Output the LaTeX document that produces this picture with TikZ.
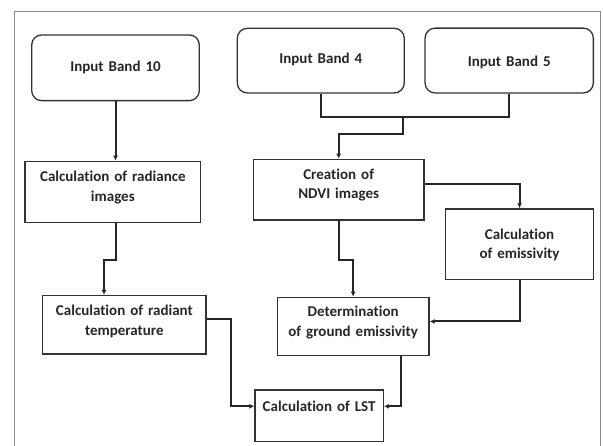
\documentclass[tikz,border=0pt]{standalone}
\usepackage{fontspec}
\setmainfont{Carlito}[Ligatures={NoCommon,NoContextual}]
\usetikzlibrary{arrows.meta}

\begin{document}
\begin{tikzpicture}[x=1pt,y=-1pt,
    caja/.style={draw=black!80, line width=1.3pt, inner sep=0pt, anchor=north,
      align=center, text=black!85, font=\fontsize{15}{19.5}\selectfont\bfseries},
    entrada/.style={caja, rounded corners=10pt},
    linea/.style={draw=black!85, line width=2pt},
    flecha/.style={linea, -{Latex[length=5pt,width=5pt]}}]
  \useasboundingbox (0,0) rectangle (603,446);

  % Marco
  \draw[black!45, line width=1.3pt] (14.7,446) -- (14.7,11.7) -- (600.5,11.7) -- (600.5,446);

  % Entradas
  \node[entrada, text width=167.6pt, text height=36.9pt, text depth=28.8pt] (band10) at (115.5,34.3) {Input Band 10};
  \node[entrada, text width=167pt, text height=34.8pt, text depth=29.8pt] (band4) at (320.8,27.7) {Input Band 4};
  \node[entrada, text width=168.3pt, text height=38pt, text depth=26.8pt] (band5) at (509.2,27.5) {Input Band 5};

  % Procesos
  \node[caja, text width=175.7pt, text height=20.5pt, text depth=40.5pt] (radiance) at (112.85,160.7) {Calculation of radiance\\images};
  \node[caja, text width=170.7pt, text height=19.8pt, text depth=40.8pt] (ndvi) at (338.65,158.7) {Creation of\\NDVI images};
  \node[caja, text width=147.6pt, text height=30.2pt, text depth=40.5pt] (emiss) at (519.5,208.3) {Calculation\\of emissivity};
  \node[caja, text width=163.3pt, text height=20.2pt, text depth=38.1pt] (radiant) at (124.35,295) {Calculation of radiant\\temperature};
  \node[caja, text width=151.7pt, text height=19.5pt, text depth=38.8pt] (ground) at (353.15,296.7) {Determination\\of ground emissivity};
  \node[caja, text width=128.3pt, text height=21.9pt, text depth=29.8pt] (lst) at (319.15,389.3) {Calculation of LST};

  % Conectores
  \coordinate (union) at (403.3,116);
  \draw[flecha] (band10.south) -- (band10.south |- radiance.north);
  \draw[linea] (band4.south) -- ++(0,23.7) -| (band5.south);
  \draw[flecha] (union) -- ++(0,18.3) -| (ndvi.north);
  \draw[flecha] (radiance.south -| band10.south) -- ++(0,36.6) -| ([xshift=-20.35pt]radiant.north);
  \draw[flecha] ([yshift=5.7pt]ndvi.east) -| (emiss.north);
  \draw[flecha] (ndvi.south) -- ++(0,39) -| (ground.north);
  \draw[flecha] (emiss.south) |- ([yshift=5pt]ground.east);
  \draw[flecha] ([yshift=5.85pt]radiant.east) -- ++(24,0) |- ([yshift=9.5pt]lst.west);
  \draw[flecha] ([xshift=-28.3pt]ground.south east) |- ([yshift=9.5pt]lst.east);
\end{tikzpicture}
\end{document}
